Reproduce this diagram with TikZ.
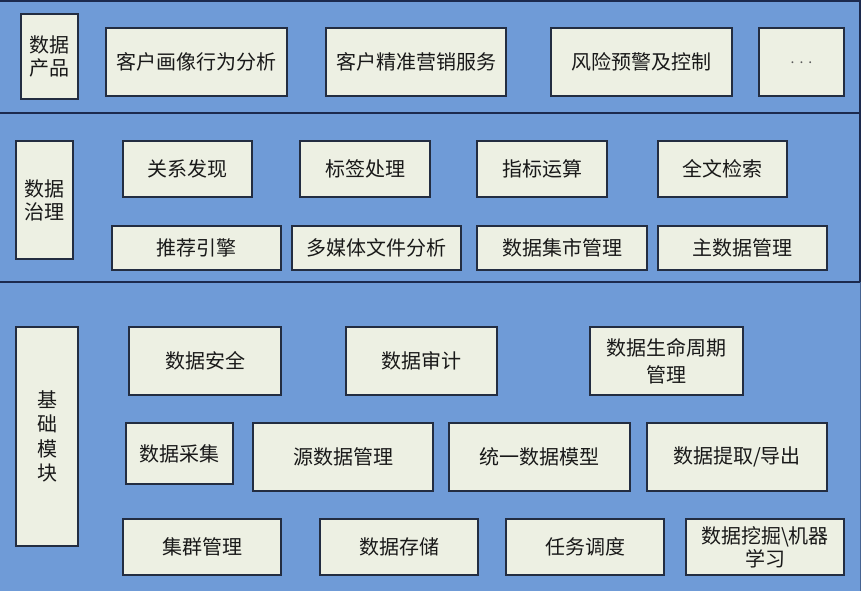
\documentclass[tikz,border=0pt]{standalone}
\usepackage{fontspec}
\setmainfont{Noto Sans CJK SC}
\definecolor{bgblue}{RGB}{111,155,215}
\definecolor{boxfill}{RGB}{237,240,227}
\definecolor{boxline}{RGB}{35,45,65}
\definecolor{sepline}{RGB}{28,42,78}
\tikzset{
  box/.style={draw=boxline, fill=boxfill, line width=1.3pt, inner sep=0pt,
    align=center, font=\fontsize{20}{23}\selectfont, text=black!90},
  sep/.style={draw=sepline, line width=1.8pt}
}
\newcommand{\bx}[6]{%
  \node[box, minimum width={(#4-#2)*1pt}, minimum height={(#5-#3)*1pt}]
    (#1) at ({(#2+#4)/2},{(#3+#5)/2}) {#6};}
\begin{document}
\begin{tikzpicture}[x=1pt,y=-1pt]
\useasboundingbox (0,0) rectangle (861,591);
\fill[bgblue] (0,0) rectangle (861,591);
% band borders
\draw[sep] (-3,1) -- (860,1) -- (860,113) -- (-3,113);
\draw[sep] (860,113) -- (860,282) -- (-3,282);
\draw[draw=sepline!50!bgblue, line width=1pt] (860,282) -- (860,591);
% top band
\bx{prod}{21}{14}{78}{99}{数据\\产品}
\bx{p1}{106}{28}{287}{96}{客户画像行为分析}
\bx{p2}{326}{28}{506}{96}{客户精准营销服务}
\bx{p3}{551}{28}{732}{96}{风险预警及控制}
\node[box, minimum width=85pt, minimum height=68pt, font=\fontsize{14}{16}\selectfont, text=black!65]
  (p4) at (801.5,62) {\raisebox{-4pt}{.\hspace{5pt}.\hspace{5pt}.}};
% middle band
\bx{gov}{16}{141}{73}{259}{数据\\治理}
\bx{g1}{123}{141}{252}{197}{关系发现}
\bx{g2}{300}{141}{430}{197}{标签处理}
\bx{g3}{477}{141}{607}{197}{指标运算}
\bx{g4}{658}{141}{787}{197}{全文检索}
\bx{g5}{112}{226}{281}{270}{推荐引擎}
\bx{g6}{292}{226}{461}{270}{多媒体文件分析}
\bx{g7}{477}{226}{647}{270}{数据集市管理}
\bx{g8}{658}{226}{827}{270}{主数据管理}
% bottom band
\bx{base}{16}{327}{78}{546}{基\\[1.5pt]础\\[1.5pt]模\\[1.5pt]块}
\bx{b1}{129}{327}{281}{395}{数据安全}
\bx{b2}{346}{327}{497}{395}{数据审计}
\bx{b3}{590}{327}{743}{395}{数据生命周期\\[4pt]管理}
\bx{b4}{126}{423}{233}{484}{数据采集}
\bx{b5}{253}{423}{433}{491}{源数据管理}
\bx{b6}{449}{423}{630}{491}{统一数据模型}
\bx{b7}{647}{423}{827}{491}{数据提取/导出}
\bx{b8}{123}{519}{281}{575}{集群管理}
\bx{b9}{320}{519}{478}{575}{数据存储}
\bx{b10}{506}{519}{664}{575}{任务调度}
\bx{b11}{686}{519}{844}{575}{数据挖掘\textbackslash 机器\\学习}
\end{tikzpicture}
\end{document}
